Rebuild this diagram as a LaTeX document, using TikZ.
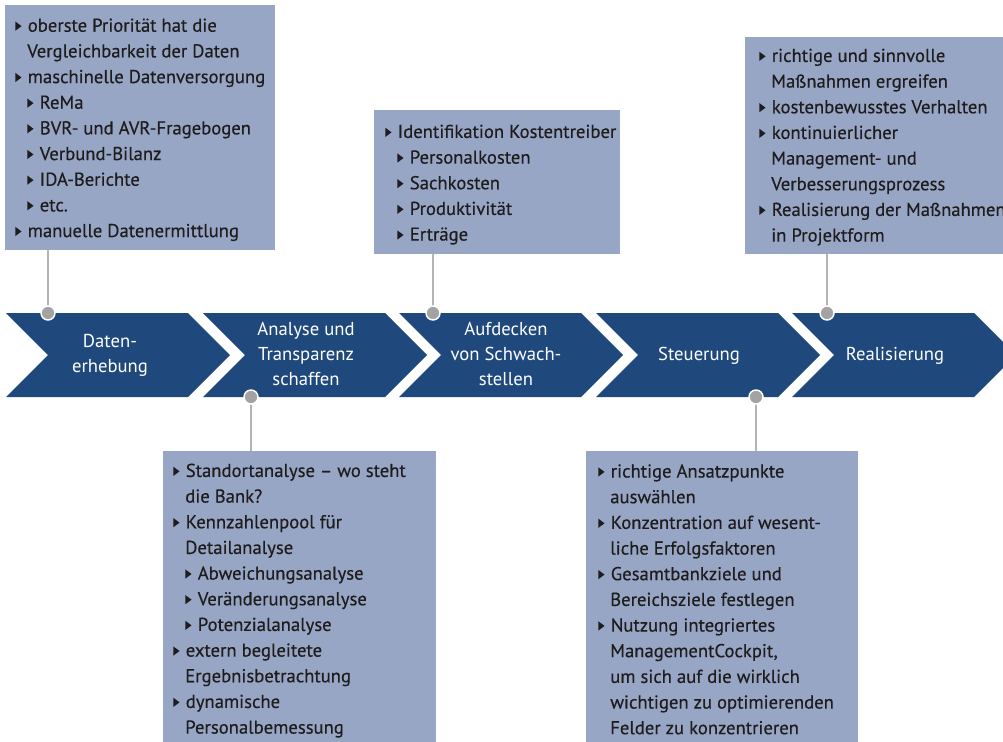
\documentclass[tikz,border=0pt]{standalone}
\usepackage{fontspec}
\setmainfont{PT Sans}
\newfontfamily\boxfam{PT Sans}[FakeBold=0.35]
\usetikzlibrary{fit}
\definecolor{chev}{HTML}{1F497D}
\definecolor{boxc}{HTML}{98A6C6}
\definecolor{txt}{HTML}{1E1C1C}
\definecolor{conn}{HTML}{B4B4B4}
\definecolor{dotc}{HTML}{A3A3A3}
\newcommand\bul{\makebox[9.4pt][l]{\tikz[baseline=-0.7pt]\fill[txt] (0pt,0pt) -- (0pt,7pt) -- (4.7pt,3.5pt) -- cycle;}}
\newcommand\ind{\hspace*{9.0pt}}
\newcommand\boxfont{\boxfam\fontsize{14}{19.25}\selectfont}
\begin{document}
\begin{tikzpicture}[x=0.75pt,y=-0.75pt,
  chevshape/.style={fill=chev},
  boxshape/.style={fill=boxc, inner sep=0pt, draw=none},
  boxtext/.style={anchor=north west, inner sep=0pt, align=left, font=\boxfont, text=txt},
  chevtext/.style={anchor=center, inner sep=0pt, align=center, font=\fontsize{14}{18.75}\selectfont, text=white},
  connline/.style={draw=conn, line width=1.4pt},
  dotnode/.style={circle, fill=dotc, draw=white, line width=1.1pt, minimum size=10.5pt, inner sep=0pt}]
\useasboundingbox (0,0) rectangle (1003,742);
\clip (0,0) rectangle (1003,742);

% chevrons
\foreach \L in {6,203,399,596,792}{
  \fill[chevshape] (\L,313) -- ++(182,0) -- ++(42,42) -- ++(-42,42) -- ++(-182,0) -- ++(42,-42) -- cycle;
}
\node[chevtext] (c1) at (110,355) {\strut Daten-\\\strut erhebung};
\node[chevtext] (c2) at (306,355) {\strut Analyse und\\\strut Transparenz\\\strut schaffen};
\node[chevtext] (c3) at (506,355) {\strut Aufdecken\\\strut von Schwach-\\\strut stellen};
\node[chevtext] (c4) at (699,355) {\strut Steuerung};
\node[chevtext] (c5) at (895,355) {\strut Realisierung};

% boxes
\node[boxshape, fit={(5,5) (275,250)}] (b1) {};
\node[boxshape, fit={(163,451) (436,742)}] (b2) {};
\node[boxshape, fit={(374,110) (620,254)}] (b3) {};
\node[boxshape, fit={(586,451) (858,742)}] (b4) {};
\node[boxshape, fit={(745,37) (1003,254)}] (b5) {};

\node[boxtext] (t1) at (15,13.5) {\strut\bul oberste Priorität hat die\\
\ind Vergleichbarkeit der Daten\\
\bul maschinelle Datenversorgung\\
\ind\bul ReMa\\
\ind\bul BVR- und AVR-Fragebogen\\
\ind\bul Verbund-Bilanz\\
\ind\bul IDA-Berichte\\
\ind\bul etc.\\
\bul manuelle Datenermittlung};

\node[boxtext] (t2) at (173,458.7) {\strut\bul Standortanalyse – wo steht\\
\ind die Bank?\\
\bul Kennzahlenpool für\\
\ind Detailanalyse\\
\ind\bul Abweichungsanalyse\\
\ind\bul Veränderungsanalyse\\
\ind\bul Potenzialanalyse\\
\bul extern begleitete\\
\ind Ergebnisbetrachtung\\
\bul dynamische\\
\ind Personalbemessung};

\node[boxtext] (t3) at (385,119.7) {\strut\bul Identifikation Kostentreiber\\
\ind\bul Personalkosten\\
\ind\bul Sachkosten\\
\ind\bul Produktivität\\
\ind\bul Erträge};

\node[boxtext] (t4) at (598,459.3) {\strut\bul richtige Ansatzpunkte\\
\ind auswählen\\
\bul Konzentration auf wesent-\\
\ind liche Erfolgsfaktoren\\
\bul Gesamtbankziele und\\
\ind Bereichsziele festlegen\\
\bul Nutzung integriertes\\
\ind ManagementCockpit,\\
\ind um sich auf die wirklich\\
\ind wichtigen zu optimierenden\\
\ind Felder zu konzentrieren};

\node[boxtext] (t5) at (759,43.7) {\strut\bul richtige und sinnvolle\\
\ind Maßnahmen ergreifen\\
\bul kostenbewusstes Verhalten\\
\bul kontinuierlicher\\
\ind Management- und\\
\ind Verbesserungsprozess\\
\bul Realisierung der Maßnahmen\\
\ind in Projektform};

% connectors and dots
\coordinate (p1) at (48,313);
\coordinate (p2) at (251,397);
\coordinate (p3) at (433,313);
\coordinate (p4) at (756,397);
\coordinate (p5) at (827,313);
\draw[connline] (b1.south -| p1) -- (p1);
\draw[connline] (b2.north -| p2) -- (p2);
\draw[connline] (b3.south -| p3) -- (p3);
\draw[connline] (b4.north -| p4) -- (p4);
\draw[connline] (b5.south -| p5) -- (p5);
\node[dotnode] (d1) at (p1) {};
\node[dotnode] (d2) at (p2) {};
\node[dotnode] (d3) at (p3) {};
\node[dotnode] (d4) at (p4) {};
\node[dotnode] (d5) at (p5) {};
\end{tikzpicture}
\end{document}
